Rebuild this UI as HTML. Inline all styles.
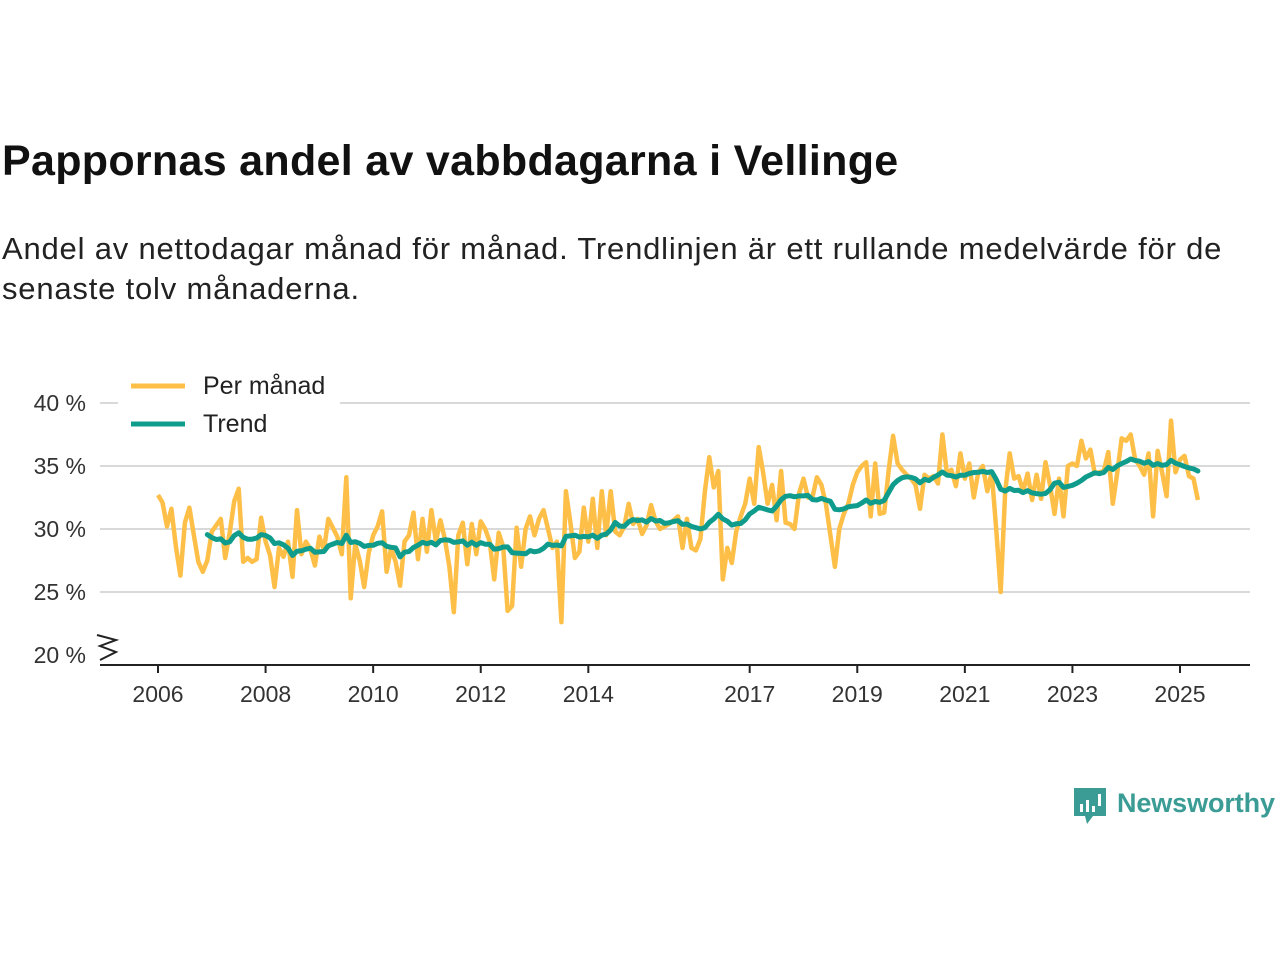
<!DOCTYPE html>
<html><head><meta charset="utf-8">
<style>
body{margin:0;width:1280px;height:960px;background:#fff;font-family:"Liberation Sans",sans-serif;overflow:hidden;position:relative;color:#111}
#title{position:absolute;left:2px;top:137px;font-size:43px;font-weight:bold;margin:0;letter-spacing:0.3px}
#sub{position:absolute;left:2px;top:229px;font-size:31px;letter-spacing:0.8px;line-height:40px;width:1262px;color:#222}
svg{position:absolute;left:0;top:0}
</style></head><body>
<h1 id="title">Pappornas andel av vabbdagarna i Vellinge</h1>
<div id="sub">Andel av nettodagar månad för månad. Trendlinjen är ett rullande medelvärde för de senaste tolv månaderna.</div>
<svg id="chart" width="1280" height="960"></svg>
<script>
const startYear = 2006;
const monthly = [
32.7,32.1,30.2,31.6,28.6,26.3,30.5,31.7,29.5,27.4,26.6,27.5,
29.8,30.3,30.8,27.7,29.7,32.2,33.2,27.4,27.7,27.4,27.6,30.9,
29.0,27.9,25.4,28.5,27.8,29.0,26.2,31.5,28.0,29.0,28.4,27.1,
29.4,28.3,30.8,30.1,29.4,28.0,34.1,24.5,28.8,27.5,25.4,28.1,
29.5,30.2,31.4,26.6,28.5,27.4,25.5,29.0,29.5,31.3,27.6,30.8,
28.2,31.5,29.0,30.7,29.2,27.0,23.4,29.5,30.5,27.2,30.4,28.0,
30.6,30.0,29.0,26.0,29.7,28.6,23.5,23.9,30.1,27.0,30.0,31.0,
29.5,30.8,31.5,30.0,28.5,29.0,22.6,33.0,30.5,27.7,28.2,31.7,
29.0,32.4,28.5,33.0,29.5,33.0,29.8,29.5,30.2,32.0,30.4,30.8,
29.6,30.3,31.9,30.6,30.0,30.2,30.4,30.7,31.0,28.5,30.8,28.5,
28.3,29.2,33.0,35.7,33.3,34.6,26.0,28.5,27.3,29.8,31.0,32.0,
34.0,32.0,36.5,34.5,32.0,33.5,30.7,34.6,30.5,30.4,30.0,32.8,
34.0,32.5,32.5,34.1,33.5,32.0,29.5,27.0,30.0,31.2,32.0,33.5,
34.5,35.0,35.3,31.0,35.2,31.2,31.3,34.6,37.4,35.2,34.7,34.3,
34.0,33.5,31.6,34.3,34.0,34.2,33.6,37.5,34.4,34.7,33.4,36.0,
34.0,35.2,32.5,34.5,35.0,33.0,34.5,30.0,25.0,33.0,36.0,34.0,
34.2,33.0,34.4,32.3,34.3,32.4,35.3,33.5,31.2,34.0,31.0,35.0,
35.2,35.0,37.0,35.6,36.3,34.4,34.5,34.6,36.1,32.0,34.5,37.2,
37.0,37.5,35.5,35.0,34.3,36.0,31.0,36.2,34.5,32.6,38.6,34.5,
35.5,35.8,34.2,34.0,32.3];
const xTicks = [2006,2008,2010,2012,2014,2017,2019,2021,2023,2025];
const yTicks = [20,25,30,35,40];

const NS="http://www.w3.org/2000/svg";
const svg=document.getElementById('chart');
const x = t => 158 + (t - startYear) * 53.79;
const y = v => 655 - (v - 20) * 12.6;
const mx = i => x(startYear + i/12);
function mk(tag, attrs, parent){const e=document.createElementNS(NS,tag);for(const k in attrs)e.setAttribute(k,attrs[k]);(parent||svg).appendChild(e);return e;}

yTicks.forEach(v=>{
  if(v>20){const g=mk('line',{x1:100,x2:1250,y1:y(v),y2:y(v),stroke:'#d9d9d9','stroke-width':2});
  
  }
  const t=mk('text',{x:86,y:y(v)+8,'text-anchor':'end','font-size':23,fill:'#333'});
  t.textContent=v+' %';
  
  
});
const brk=mk('polyline',{points:'97,635 116,640 100,646 116,652 100,660',fill:'none',stroke:'#222','stroke-width':2});


const ax=mk('line',{x1:100,x2:1250,y1:665,y2:665,stroke:'#222','stroke-width':2});


xTicks.forEach(yr=>{
  const tk=mk('line',{x1:x(yr),x2:x(yr),y1:665,y2:673,stroke:'#222','stroke-width':2});
  
  
  const t=mk('text',{x:x(yr),y:702,'text-anchor':'middle','font-size':23,fill:'#333'});
  t.textContent=yr;
  
  
});
const mp=mk('polyline',{points:monthly.map((v,i)=>mx(i).toFixed(1)+','+y(v).toFixed(1)).join(' '),fill:'none',stroke:'#fdbf47','stroke-width':4.5,'stroke-linejoin':'round'});


const tp=[];
for(let i=11;i<monthly.length;i++){let s=0;for(let j=i-11;j<=i;j++)s+=monthly[j];tp.push(mx(i).toFixed(1)+','+y(s/12).toFixed(1));}
const tl=mk('polyline',{points:tp.join(' '),fill:'none',stroke:'#0f9c8c','stroke-width':5,'stroke-linejoin':'round','stroke-linecap':'round'});



const lg=mk('g',{});


mk('rect',{x:118,y:366,width:222,height:78,fill:'#fff'},lg);
mk('line',{x1:131,x2:185,y1:386,y2:386,stroke:'#fdbf47','stroke-width':5},lg);
mk('line',{x1:131,x2:185,y1:424,y2:424,stroke:'#0f9c8c','stroke-width':5},lg);
const l1=mk('text',{x:203,y:394,'font-size':25,fill:'#222'},lg);l1.textContent='Per månad';


const l2=mk('text',{x:203,y:432,'font-size':25,fill:'#222'},lg);l2.textContent='Trend';



const logo=mk('g',{});


mk('path',{d:'M1074,788 h32 v28 h-13 l-6,8 l-2,-8 h-11 z',fill:'#3a9c95'},logo);
mk('rect',{x:1080,y:804,width:3,height:8,fill:'#fff'},logo);
mk('rect',{x:1086,y:800,width:3,height:12,fill:'#fff'},logo);
mk('rect',{x:1092,y:806,width:3,height:6,fill:'#fff'},logo);
mk('rect',{x:1098,y:794,width:3,height:12,fill:'#fff'},logo);
const lt=mk('text',{x:1117,y:812,'font-size':27,fill:'#3a9c95','font-weight':'bold'},logo);lt.textContent='Newsworthy';
lt.setAttribute('textLength','158');
</script>
</body></html>
